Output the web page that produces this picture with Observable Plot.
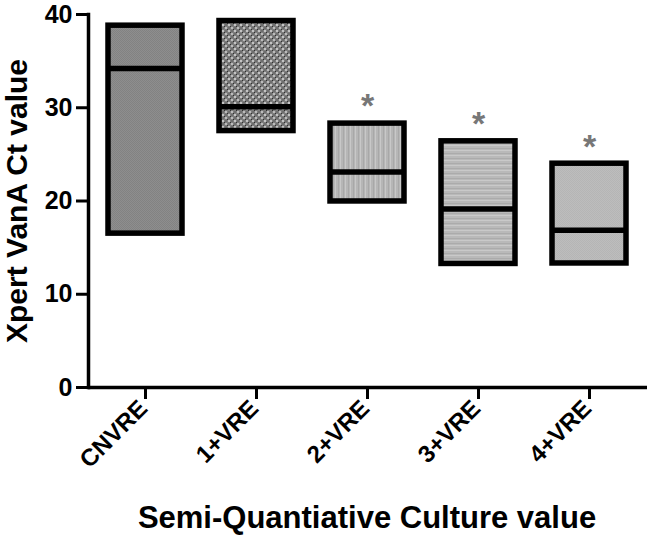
<!DOCTYPE html>
<html>
<head>
<meta charset="utf-8">
<script src="https://cdn.jsdelivr.net/npm/d3@7"></script>
<script src="https://cdn.jsdelivr.net/npm/@observablehq/plot@0.6"></script>
<style>
  html, body { margin: 0; padding: 0; background: #fff; }
  #chart { width: 650px; height: 537px; }
</style>
</head>
<body>
<div id="chart"></div>
<script>
// ---- data ----
const categories = ["CNVRE", "1+VRE", "2+VRE", "3+VRE", "4+VRE"];
const boxLow     = [16.5, 27.5, 19.95, 13.25, 13.3];
const boxHigh    = [38.8, 39.3, 28.3, 26.4, 24.0];
const medians    = [34.2, 30.1, 23.1, 19.15, 16.85];
const significant = [false, false, true, true, true];
const yTicks = [0, 10, 20, 30, 40];
const yTitle = "Xpert VanA Ct value";
const xTitle = "Semi-Quantiative Culture value";

const rows = categories.map((c, i) => ({
  cat: c, low: boxLow[i], high: boxHigh[i], median: medians[i], sig: significant[i]
}));

// pattern fills (style)
const patternFills = ["url(#pat0)", "url(#pat1)", "url(#pat2)", "url(#pat3)", "url(#pat4)"];
const font = "'Liberation Sans', Arial, Helvetica, sans-serif";

const chart = Plot.plot({
  width: 650,
  height: 537,
  marginLeft: 88,
  marginRight: 5,
  marginTop: 14,
  marginBottom: 150,
  style: { fontFamily: font, background: "#fff", color: "#000", overflow: "visible" },
  x: { type: "band", domain: categories, paddingInner: 0.336, paddingOuter: 0.166 },
  y: { domain: [0, 40] },
  color: { type: "ordinal", domain: categories, range: patternFills },
  marks: [
    Plot.rect(rows, {
      x: "cat", y1: "low", y2: "high", fill: "cat",
      stroke: "#000", strokeWidth: 5.5, strokeLinejoin: "miter"
    }),
    Plot.tickY(rows, { x: "cat", y: "median", stroke: "#000", strokeWidth: 5.5 }),
    Plot.text(rows.filter(d => d.sig), {
      x: "cat", y: "high", text: () => "*", dy: -17,
      fontSize: 34, fontWeight: "bold", fill: "#777"
    }),
    Plot.ruleY([0], { stroke: "#000", strokeWidth: 3.5, insetRight: -2 }),
    Plot.frame({ anchor: "left", stroke: "#000", strokeWidth: 3.5 }),
    Plot.axisY({
      ticks: yTicks, tickSize: 12, tickPadding: 4, strokeWidth: 3,
      fontSize: 25, fontWeight: "bold", label: null, tickFormat: d => String(d)
    }),
    Plot.axisX({ tickSize: 12, strokeWidth: 3, text: null, label: null }),
    Plot.axisX({
      tickSize: 0, tickPadding: 17, tickRotate: -45, dx: -2,
      fontSize: 24, fontWeight: "bold", label: null
    }),
    Plot.text([yTitle], {
      frameAnchor: "left", textAnchor: "middle", rotate: -90, dx: -71,
      fontSize: 30, fontWeight: "bold", fill: "#000"
    }),
    Plot.text([xTitle], {
      frameAnchor: "bottom", dy: 140, fontSize: 31, fontWeight: "bold", fill: "#000"
    })
  ]
});

// pattern definitions
const svg = d3.select(chart.tagName === "svg" ? chart : chart.querySelector("svg"));
const defs = svg.insert("defs", ":first-child");
function pattern(id, w, h, base, cells) {
  const p = defs.append("pattern").attr("id", id).attr("patternUnits", "userSpaceOnUse")
    .attr("width", w).attr("height", h);
  p.append("rect").attr("width", w).attr("height", h).attr("fill", base);
  cells.forEach(([x, y, cw, ch, f]) => p.append("rect").attr("x", x).attr("y", y)
    .attr("width", cw).attr("height", ch).attr("fill", f));
}
pattern("pat0", 2, 2, "#8e8e8e", [[0, 0, 1, 1, "#828282"], [1, 1, 1, 1, "#828282"]]);
pattern("pat1", 6, 6, "#7e7e7e", [[0, 0, 2, 2, "#c4c4c4"], [3, 3, 2, 2, "#bcbcbc"], [2, 2, 1, 1, "#303030"], [5, 5, 1, 1, "#303030"], [0, 3, 2, 2, "#6e6e6e"], [3, 0, 2, 2, "#6e6e6e"]]);
pattern("pat2", 5, 5, "#b6b6b6", [[0, 0, 1, 5, "#c8c8c8"], [3, 0, 1, 5, "#a8a8a8"]]);
pattern("pat3", 5, 5, "#b9b9b9", [[0, 0, 5, 1, "#c9c9c9"], [0, 3, 5, 1, "#ababab"]]);
pattern("pat4", 2, 2, "#bdbdbd", [[0, 0, 1, 1, "#b5b5b5"], [1, 1, 1, 1, "#b5b5b5"]]);

document.getElementById("chart").appendChild(chart);
</script>
</body>
</html>
